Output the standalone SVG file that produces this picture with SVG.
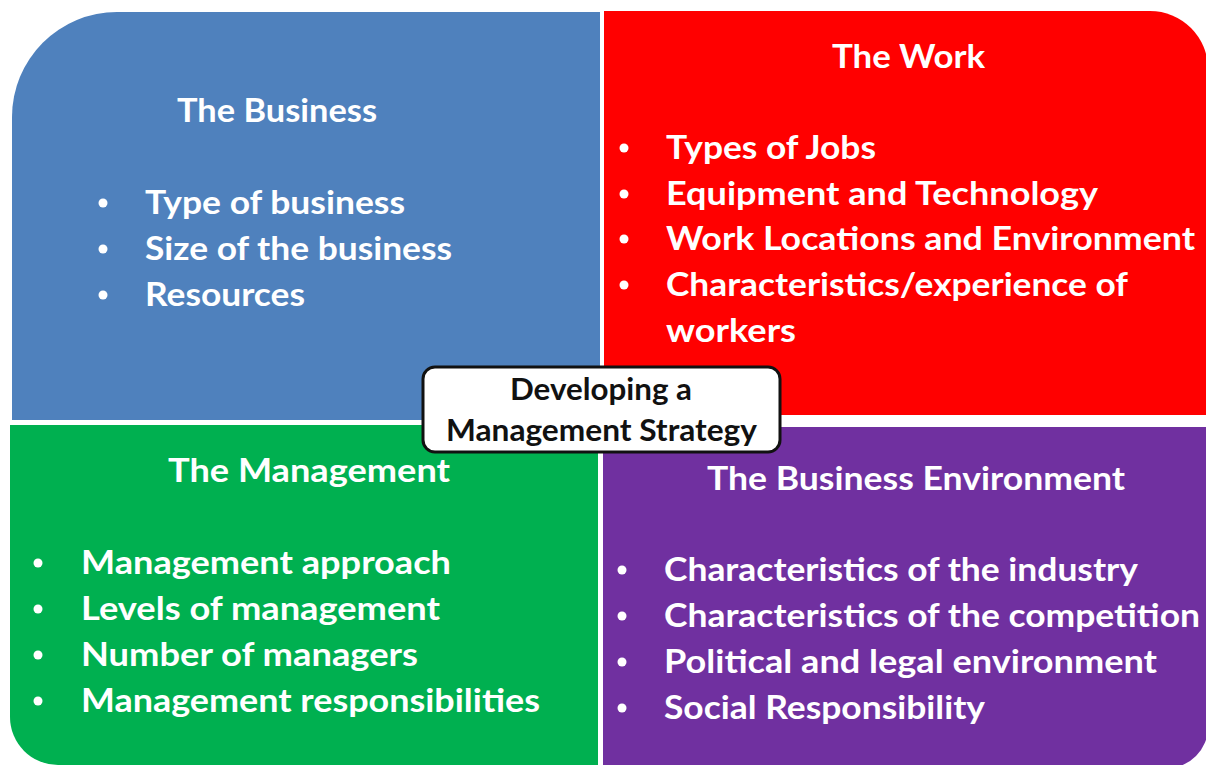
<svg xmlns="http://www.w3.org/2000/svg" width="1206" height="765" viewBox="0 0 1206 765">
  <style>
    .t { font-family: Lato, "Open Sans", "Liberation Sans", sans-serif; font-weight: bold; fill: #ffffff; font-size: 33px; }
    .b { fill: #ffffff; }
    .center-txt { font-family: Lato, "Open Sans", "Liberation Sans", sans-serif; font-weight: bold; fill: #111111; font-size: 30px; }
  </style>
  <rect width="1206" height="765" fill="#ffffff"/>

  <!-- top-left quadrant -->
  <g id="business">
    <path d="M12,117 A105,105 0 0 1 117,12 L600,12 L600,420 L12,420 Z" fill="#4F81BD"/>
    <text class="t" x="177" y="122" textLength="200" lengthAdjust="spacingAndGlyphs">The Business</text>
    <circle class="b" cx="103" cy="203" r="4.5"/>
    <circle class="b" cx="103" cy="249" r="4.5"/>
    <circle class="b" cx="103" cy="295" r="4.5"/>
    <text class="t" x="145" y="214" textLength="260" lengthAdjust="spacingAndGlyphs">Type of business</text>
    <text class="t" x="145" y="260" textLength="307" lengthAdjust="spacingAndGlyphs">Size of the business</text>
    <text class="t" x="145" y="306" textLength="160" lengthAdjust="spacingAndGlyphs">Resources</text>
  </g>

  <!-- top-right quadrant -->
  <g id="work">
    <path d="M604,11 L1150,11 A58,58 0 0 1 1208,69 L1208,415 L604,415 Z" fill="#FF0000"/>
    <text class="t" x="832" y="68" textLength="153" lengthAdjust="spacingAndGlyphs">The Work</text>
    <circle class="b" cx="624" cy="148" r="4.5"/>
    <circle class="b" cx="624" cy="194" r="4.5"/>
    <circle class="b" cx="624" cy="239" r="4.5"/>
    <circle class="b" cx="624" cy="285" r="4.5"/>
    <text class="t" x="666" y="159" textLength="210" lengthAdjust="spacingAndGlyphs">Types of Jobs</text>
    <text class="t" x="666" y="205" textLength="432" lengthAdjust="spacingAndGlyphs">Equipment and Technology</text>
    <text class="t" x="666" y="250" textLength="529" lengthAdjust="spacingAndGlyphs">Work Locations and Environment</text>
    <text class="t" x="666" y="296" textLength="462" lengthAdjust="spacingAndGlyphs">Characteristics/experience of</text>
    <text class="t" x="666" y="342" textLength="130" lengthAdjust="spacingAndGlyphs">workers</text>
  </g>

  <!-- bottom-left quadrant -->
  <g id="management">
    <path d="M10,425 L598,425 L598,765 L58,765 A48,48 0 0 1 10,717 Z" fill="#00B050"/>
    <text class="t" x="168" y="482" textLength="282" lengthAdjust="spacingAndGlyphs">The Management</text>
    <circle class="b" cx="38" cy="563" r="4.5"/>
    <circle class="b" cx="38" cy="609" r="4.5"/>
    <circle class="b" cx="38" cy="655" r="4.5"/>
    <circle class="b" cx="38" cy="701" r="4.5"/>
    <text class="t" x="81" y="574" textLength="370" lengthAdjust="spacingAndGlyphs">Management approach</text>
    <text class="t" x="81" y="620" textLength="359" lengthAdjust="spacingAndGlyphs">Levels of management</text>
    <text class="t" x="81" y="666" textLength="337" lengthAdjust="spacingAndGlyphs">Number of managers</text>
    <text class="t" x="81" y="712" textLength="459" lengthAdjust="spacingAndGlyphs">Management responsibilities</text>
  </g>

  <!-- bottom-right quadrant -->
  <g id="environment">
    <path d="M603,427 L1208,427 L1208,727 A41,41 0 0 1 1167,768 L603,768 Z" fill="#7030A0"/>
    <text class="t" x="707" y="490" textLength="418" lengthAdjust="spacingAndGlyphs">The Business Environment</text>
    <circle class="b" cx="622" cy="570" r="4.5"/>
    <circle class="b" cx="622" cy="616" r="4.5"/>
    <circle class="b" cx="622" cy="662" r="4.5"/>
    <circle class="b" cx="622" cy="708" r="4.5"/>
    <text class="t" x="664" y="581" textLength="474" lengthAdjust="spacingAndGlyphs">Characteristics of the industry</text>
    <text class="t" x="664" y="627" textLength="536" lengthAdjust="spacingAndGlyphs">Characteristics of the competition</text>
    <text class="t" x="664" y="673" textLength="493" lengthAdjust="spacingAndGlyphs">Political and legal environment</text>
    <text class="t" x="664" y="719" textLength="321" lengthAdjust="spacingAndGlyphs">Social Responsibility</text>
  </g>

  <g id="connectors"/>

  <!-- central label -->
  <g id="strategy">
    <rect x="423" y="367" width="357" height="85" rx="12" ry="12" fill="#ffffff" stroke="#111111" stroke-width="3"/>
    <text class="center-txt" x="510" y="400" textLength="182" lengthAdjust="spacingAndGlyphs">Developing a</text>
    <text class="center-txt" x="446" y="441" textLength="311" lengthAdjust="spacingAndGlyphs">Management Strategy</text>
  </g>
</svg>
